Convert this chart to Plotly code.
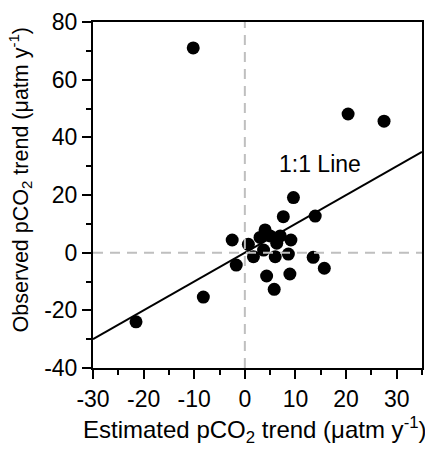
import plotly.graph_objects as go

est = [-10.2, 20.4, 27.5, -21.5, -8.2, 9.6, 7.6, 13.9, -2.5, 0.7, 4.0, 3.0, 5.0, 7.0, 9.1, 6.3,
       1.7, 3.7, 6.0, 8.6, -1.7, 13.5, 15.7, 4.3, 8.9, 5.8]
obs = [71.0, 48.1, 45.6, -24.0, -15.4, 19.1, 12.5, 12.7, 4.4, 2.9, 7.9, 5.3, 5.8, 5.8, 4.4, 3.3,
       -1.4, 0.9, -1.4, -0.5, -4.3, -1.6, -5.4, -8.1, -7.4, -12.7]
line_x = [-30, 35]
line_y = [-30, 35]
x_ticks = [-30, -20, -10, 0, 10, 20, 30]
x_labels = ["-30", "-20", "-10", "0", "10", "20", "30"]
y_ticks = [-40, -20, 0, 20, 40, 60, 80]
y_labels = ["-40", "-20", "0", "20", "40", "60", "80"]

fig = go.Figure()
fig.add_trace(go.Scatter(x=est, y=obs, mode="markers",
                         marker=dict(color="black", size=13), showlegend=False))
fig.add_trace(go.Scatter(x=line_x, y=line_y, mode="lines",
                         line=dict(color="black", width=2), showlegend=False))

fig.add_shape(type="line", x0=0, x1=0, y0=-40, y1=80, xref="x", yref="y",
              line=dict(color="#bfbfbf", width=2, dash="10px,7px"), layer="above")
fig.add_shape(type="line", x0=-30, x1=35, y0=0, y1=0, xref="x", yref="y",
              line=dict(color="#bfbfbf", width=2, dash="10px,7px"), layer="above")

fig.add_annotation(x=14.9, y=30.8, text="1:1 Line", showarrow=False,
                   font=dict(size=23, color="black"))

# axis titles
fig.add_annotation(xref="paper", yref="paper", x=0.492, y=-0.178,
                   xanchor="center", yanchor="middle", showarrow=False,
                   text="Estimated pCO<sub>2</sub> trend (μatm y<sup>-1</sup>)",
                   font=dict(size=24, color="black"))
fig.add_annotation(xref="paper", yref="paper", x=-0.222, y=0.545,
                   xanchor="center", yanchor="middle", showarrow=False, textangle=-90,
                   text="Observed pCO<sub>2</sub> trend (μatm y<sup>-1</sup>)",
                   font=dict(size=21.5, color="black"))

font = "Liberation Sans, Arial, sans-serif"
fig.update_layout(
    width=425, height=450,
    margin=dict(l=85, r=11, t=14, b=90),
    paper_bgcolor="white", plot_bgcolor="white",
    font=dict(family=font, size=20, color="black"),
)
fig.update_xaxes(range=[-30, 35], tickvals=x_ticks, ticktext=x_labels,
                 ticks="outside", ticklen=9, tickwidth=2, tickcolor="black",
                 minor=dict(dtick=5, tick0=-30, ticks="outside", ticklen=5, tickwidth=2, tickcolor="black"),
                 showline=True, linecolor="black", linewidth=2, mirror=True,
                 showgrid=False, zeroline=False, automargin=False,
                 tickfont=dict(size=23))
fig.update_yaxes(range=[-40, 80], tickvals=y_ticks, ticktext=y_labels,
                 ticks="outside", ticklen=9, tickwidth=2, tickcolor="black",
                 minor=dict(dtick=10, tick0=-40, ticks="outside", ticklen=5, tickwidth=2, tickcolor="black"),
                 showline=True, linecolor="black", linewidth=2, mirror=True,
                 showgrid=False, zeroline=False, automargin=False,
                 tickfont=dict(size=23))

fig.write_html("out.html")
